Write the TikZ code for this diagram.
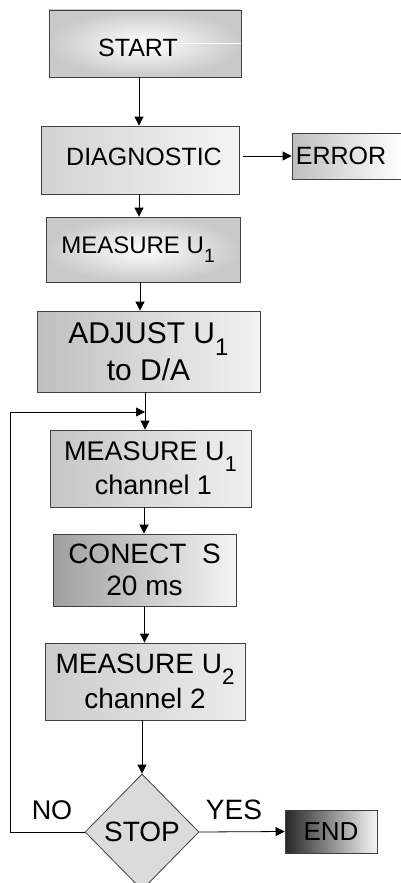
\documentclass[tikz,border=0pt]{standalone}
\usepackage{fontspec}
\setmainfont{Liberation Sans}
\usetikzlibrary{shapes.geometric,arrows.meta,calc}
\newcommand\subsc[1]{\raisebox{-0.4em}{\scalebox{0.8}{#1}}}
\begin{document}
\begin{tikzpicture}[x=1pt,y=-1pt,
  box/.style={draw=black!75, line width=0.8pt, rectangle, inner sep=0pt, align=center},
  arr/.style={draw=black, line width=0.8pt, -{Triangle[length=9pt,width=9pt]}},
  lab/.style={inner sep=0pt},
  fsz/.style={font=\fontsize{#1}{#1}\selectfont}]
\useasboundingbox (0,0) rectangle (401,883);
\fill[white] (0,0) rectangle (401,883);

\node[box, minimum width=192pt, minimum height=67pt, shading=radial, inner color=white, outer color=gray!42]
  (start) at (145,43.5) {};
\node[lab, fsz=25] (starttxt) at (138,48) {START};
\draw[white, line width=0.7pt] (starttxt.east |- start.center) -- (start.east);

\node[box, minimum width=198pt, minimum height=68pt, left color=gray!35, right color=gray!8, fsz=25]
  (diag) at (140,160) {};
\node[lab, fsz=25] (diagtxt) at (144,157) {DIAGNOSTIC};
\node[box, minimum width=110pt, minimum height=46pt, left color=gray!50, right color=white, fsz=25]
  (error) at (347,156) {\hspace{-12pt}ERROR};

\node[box, minimum width=194pt, minimum height=65pt, shading=radial, inner color=white, outer color=gray!42, fsz=24]
  (m1) at (143,249.5) {\hspace{-10pt}MEASURE U\subsc{1}};

\node[box, minimum width=223pt, minimum height=81pt, left color=gray!50, right color=gray!10,
  font=\fontsize{30}{37}\selectfont]
  (adj) at (148.5,351.5) {ADJUST U\subsc{1}\\ to D/A\hspace{22pt}};

\node[box, minimum width=201pt, minimum height=77pt, left color=gray!45, right color=gray!12,
  font=\fontsize{27}{34}\selectfont]
  (ch1) at (150.5,468.5) {MEASURE U\subsc{1}\\ \hspace{6pt}channel 1};

\node[box, minimum width=183pt, minimum height=72pt, left color=gray!75, right color=gray!8,
  font=\fontsize{28}{32}\selectfont]
  (con) at (144.5,570) {CONECT\ \ S\\ 20 ms\hspace{4pt}};

\node[box, minimum width=200pt, minimum height=77pt, left color=gray!40, right color=gray!15,
  font=\fontsize{28}{35}\selectfont]
  (u2) at (145,681.5) {MEASURE U\subsc{2}\\ channel 2};

\node[box, shape=diamond, minimum width=114pt, minimum height=116pt, fill=gray!28, fsz=28]
  (stop) at (142,832) {STOP};

\node[box, minimum width=92pt, minimum height=43pt, left color=black!85, right color=gray!8, fsz=26]
  (end) at (331,831.5) {END};

\node[lab, fsz=27] (no) at (52,810) {NO};
\node[lab, fsz=28] (yes) at (234,810) {YES};

\coordinate (lx) at (10,0);
\coordinate (lp) at (145,412);

\draw[arr] ([xshift=-6pt]start.south) -- ([xshift=-6pt]start.south |- diag.north);
\draw[arr] ([xshift=4pt]diag.east |- error.west) -- (error.west);
\draw[arr] ([xshift=-1pt]diag.south) -- ([xshift=-1pt]diag.south |- m1.north);
\draw[arr] ([xshift=-3pt]m1.south) -- ([xshift=-3pt]m1.south |- adj.north);
\draw[arr] ([xshift=-3.5pt]adj.south) -- ([xshift=-3.5pt]adj.south |- ch1.north);
\draw[arr] ([xshift=-6.5pt]ch1.south) -- ([xshift=-6.5pt]ch1.south |- con.north);
\draw[arr] (con.south) -- (con.south |- u2.north);
\draw[arr] (u2.south -| stop.north) -- (stop.north);
\draw[arr] (stop.west) -- (stop.west -| lx) |- (lp);
\draw[arr] (stop.east) -- (end.west);
\end{tikzpicture}
\end{document}
